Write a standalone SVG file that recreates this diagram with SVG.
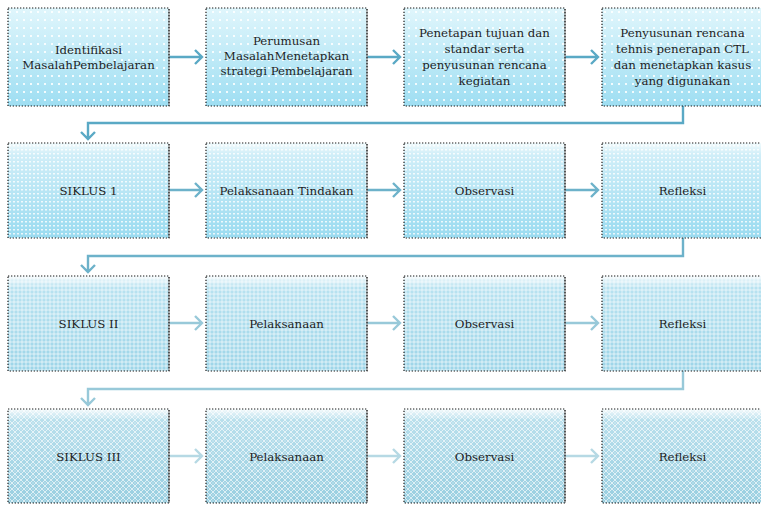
<svg xmlns="http://www.w3.org/2000/svg" width="761" height="505" viewBox="0 0 761 505">
  <defs>
    <style>
      .lbl { font-family: 'DejaVu Serif', 'Liberation Serif', serif; font-size: 11.8px; fill: #1e1e1e; text-anchor: middle; }
      .frame { fill: none; stroke: #1a1a1a; stroke-width: 1.2; stroke-dasharray: 1.3 1.7; }
      .shade { fill: none; stroke: #8a8a8a; stroke-width: 1.2; }
      .c1 { fill: none; stroke: #5aa9c5; stroke-width: 2.4; }
      .c2 { fill: none; stroke: #6db2ca; stroke-width: 2.4; }
      .c3 { fill: none; stroke: #98c9d9; stroke-width: 2.4; }
      .c4 { fill: none; stroke: #b6d9e4; stroke-width: 2.4; }
    </style>
    <linearGradient id="g1" x1="0" y1="0" x2="0" y2="1">
      <stop offset="0" stop-color="#e0f6fc"/>
      <stop offset="1" stop-color="#9edef2"/>
    </linearGradient>
    <linearGradient id="g2" x1="0" y1="0" x2="0" y2="1">
      <stop offset="0" stop-color="#f2fbfd"/>
      <stop offset="0.12" stop-color="#d0eef8"/>
      <stop offset="1" stop-color="#9adbf0"/>
    </linearGradient>
    <linearGradient id="g3" x1="0" y1="0" x2="0" y2="1">
      <stop offset="0" stop-color="#f4fafc"/>
      <stop offset="0.12" stop-color="#b8e2f0"/>
      <stop offset="1" stop-color="#9dd5e8"/>
    </linearGradient>
    <linearGradient id="g4" x1="0" y1="0" x2="0" y2="1">
      <stop offset="0" stop-color="#f4fafc"/>
      <stop offset="0.12" stop-color="#b8dfec"/>
      <stop offset="1" stop-color="#98cee0"/>
    </linearGradient>
    <!-- white dot textures layered over the gradients -->
    <pattern id="p1" width="7" height="8" patternUnits="userSpaceOnUse">
      <rect x="2" y="3" width="2" height="2" fill="#ffffff" opacity="0.85"/>
    </pattern>
    <pattern id="p2" width="4" height="4" patternUnits="userSpaceOnUse">
      <rect x="1" y="1" width="2" height="1.5" fill="#ffffff" opacity="0.8"/>
    </pattern>
    <pattern id="p3" width="4" height="4" patternUnits="userSpaceOnUse">
      <rect x="0" y="1.5" width="4" height="1" fill="#ffffff" opacity="0.6"/>
      <rect x="1.5" y="0" width="1" height="4" fill="#ffffff" opacity="0.6"/>
    </pattern>
    <pattern id="p4" width="6" height="6" patternUnits="userSpaceOnUse">
      <path d="M3 0 L6 3 L3 6 L0 3 Z" fill="none" stroke="#ffffff" stroke-width="1" opacity="0.65"/>
      <rect x="2.5" y="2.5" width="1" height="1" fill="#ffffff" opacity="0.7"/>
    </pattern>
  </defs>

  <!-- connectors -->
  <g id="connectors">
    <path class="c1" d="M169 57 H202 M195 50 L202 57 L195 64"/>
    <path class="c1" d="M367 57 H400 M393 50 L400 57 L393 64"/>
    <path class="c1" d="M565 57 H598 M591 50 L598 57 L591 64"/>
    <path class="c1" d="M683 106 V123 H88 V139 M81 132 L88 139 L95 132"/>

    <path class="c2" d="M169 190 H202 M195 183 L202 190 L195 197"/>
    <path class="c2" d="M367 190 H400 M393 183 L400 190 L393 197"/>
    <path class="c2" d="M565 190 H598 M591 183 L598 190 L591 197"/>
    <path class="c2" d="M683 238 V256 H88 V272 M81 265 L88 272 L95 265"/>

    <path class="c3" d="M169 323 H202 M195 316 L202 323 L195 330"/>
    <path class="c3" d="M367 323 H400 M393 316 L400 323 L393 330"/>
    <path class="c3" d="M565 323 H598 M591 316 L598 323 L591 330"/>
    <path class="c3" d="M683 371 V389 H88 V405 M81 398 L88 405 L95 398"/>

    <path class="c4" d="M169 456 H202 M195 449 L202 456 L195 463"/>
    <path class="c4" d="M367 456 H400 M393 449 L400 456 L393 463"/>
    <path class="c4" d="M565 456 H598 M591 449 L598 456 L591 463"/>
  </g>

  <!-- row 1 -->
  <g id="identifikasi">
    <rect x="8" y="8" width="161" height="98" fill="url(#g1)"/>
    <rect x="8" y="8" width="161" height="98" fill="url(#p1)"/>
    <path class="shade" d="M169 9 V106"/>
    <rect class="frame" x="8" y="8" width="161" height="98"/>
    <text class="lbl" x="88.5" y="54">Identifikasi</text>
    <text class="lbl" x="88.5" y="69">MasalahPembelajaran</text>
  </g>
  <g id="perumusan">
    <rect x="206" y="8" width="161" height="98" fill="url(#g1)"/>
    <rect x="206" y="8" width="161" height="98" fill="url(#p1)"/>
    <path class="shade" d="M367 9 V106"/>
    <rect class="frame" x="206" y="8" width="161" height="98"/>
    <text class="lbl" x="286.5" y="45">Perumusan</text>
    <text class="lbl" x="286.5" y="60">MasalahMenetapkan</text>
    <text class="lbl" x="286.5" y="75">strategi Pembelajaran</text>
  </g>
  <g id="penetapan">
    <rect x="404" y="8" width="161" height="98" fill="url(#g1)"/>
    <rect x="404" y="8" width="161" height="98" fill="url(#p1)"/>
    <path class="shade" d="M565 9 V106"/>
    <rect class="frame" x="404" y="8" width="161" height="98"/>
    <text class="lbl" x="484.5" y="37">Penetapan tujuan dan</text>
    <text class="lbl" x="484.5" y="53">standar serta</text>
    <text class="lbl" x="484.5" y="69">penyusunan rencana</text>
    <text class="lbl" x="484.5" y="85">kegiatan</text>
  </g>
  <g id="penyusunan">
    <rect x="602" y="8" width="161" height="98" fill="url(#g1)"/>
    <rect x="602" y="8" width="161" height="98" fill="url(#p1)"/>
    <rect class="frame" x="602" y="8" width="161" height="98"/>
    <text class="lbl" x="682.5" y="37">Penyusunan rencana</text>
    <text class="lbl" x="682.5" y="53">tehnis penerapan CTL</text>
    <text class="lbl" x="682.5" y="69">dan menetapkan kasus</text>
    <text class="lbl" x="682.5" y="85">yang digunakan</text>
  </g>

  <!-- row 2 -->
  <g id="siklus1">
    <rect x="8" y="143" width="161" height="95" fill="url(#g2)"/>
    <rect x="8" y="143" width="161" height="95" fill="url(#p2)"/>
    <path class="shade" d="M169 144 V238"/>
    <rect class="frame" x="8" y="143" width="161" height="95"/>
    <text class="lbl" x="88.5" y="195">SIKLUS 1</text>
  </g>
  <g id="pelaksanaan-tindakan">
    <rect x="206" y="143" width="161" height="95" fill="url(#g2)"/>
    <rect x="206" y="143" width="161" height="95" fill="url(#p2)"/>
    <path class="shade" d="M367 144 V238"/>
    <rect class="frame" x="206" y="143" width="161" height="95"/>
    <text class="lbl" x="286.5" y="195">Pelaksanaan Tindakan</text>
  </g>
  <g id="observasi1">
    <rect x="404" y="143" width="161" height="95" fill="url(#g2)"/>
    <rect x="404" y="143" width="161" height="95" fill="url(#p2)"/>
    <path class="shade" d="M565 144 V238"/>
    <rect class="frame" x="404" y="143" width="161" height="95"/>
    <text class="lbl" x="484.5" y="195">Observasi</text>
  </g>
  <g id="refleksi1">
    <rect x="602" y="143" width="161" height="95" fill="url(#g2)"/>
    <rect x="602" y="143" width="161" height="95" fill="url(#p2)"/>
    <rect class="frame" x="602" y="143" width="161" height="95"/>
    <text class="lbl" x="682.5" y="195">Refleksi</text>
  </g>

  <!-- row 3 -->
  <g id="siklus2">
    <rect x="8" y="276" width="161" height="95" fill="url(#g3)"/>
    <rect x="8" y="276" width="161" height="95" fill="url(#p3)"/>
    <path class="shade" d="M169 277 V371"/>
    <rect class="frame" x="8" y="276" width="161" height="95"/>
    <text class="lbl" x="88.5" y="328">SIKLUS II</text>
  </g>
  <g id="pelaksanaan2">
    <rect x="206" y="276" width="161" height="95" fill="url(#g3)"/>
    <rect x="206" y="276" width="161" height="95" fill="url(#p3)"/>
    <path class="shade" d="M367 277 V371"/>
    <rect class="frame" x="206" y="276" width="161" height="95"/>
    <text class="lbl" x="286.5" y="328">Pelaksanaan</text>
  </g>
  <g id="observasi2">
    <rect x="404" y="276" width="161" height="95" fill="url(#g3)"/>
    <rect x="404" y="276" width="161" height="95" fill="url(#p3)"/>
    <path class="shade" d="M565 277 V371"/>
    <rect class="frame" x="404" y="276" width="161" height="95"/>
    <text class="lbl" x="484.5" y="328">Observasi</text>
  </g>
  <g id="refleksi2">
    <rect x="602" y="276" width="161" height="95" fill="url(#g3)"/>
    <rect x="602" y="276" width="161" height="95" fill="url(#p3)"/>
    <rect class="frame" x="602" y="276" width="161" height="95"/>
    <text class="lbl" x="682.5" y="328">Refleksi</text>
  </g>

  <!-- row 4 -->
  <g id="siklus3">
    <rect x="8" y="409" width="161" height="94" fill="url(#g4)"/>
    <rect x="8" y="409" width="161" height="94" fill="url(#p4)"/>
    <path class="shade" d="M169 410 V503"/>
    <rect class="frame" x="8" y="409" width="161" height="94"/>
    <text class="lbl" x="88.5" y="461">SIKLUS III</text>
  </g>
  <g id="pelaksanaan3">
    <rect x="206" y="409" width="161" height="94" fill="url(#g4)"/>
    <rect x="206" y="409" width="161" height="94" fill="url(#p4)"/>
    <path class="shade" d="M367 410 V503"/>
    <rect class="frame" x="206" y="409" width="161" height="94"/>
    <text class="lbl" x="286.5" y="461">Pelaksanaan</text>
  </g>
  <g id="observasi3">
    <rect x="404" y="409" width="161" height="94" fill="url(#g4)"/>
    <rect x="404" y="409" width="161" height="94" fill="url(#p4)"/>
    <path class="shade" d="M565 410 V503"/>
    <rect class="frame" x="404" y="409" width="161" height="94"/>
    <text class="lbl" x="484.5" y="461">Observasi</text>
  </g>
  <g id="refleksi3">
    <rect x="602" y="409" width="161" height="94" fill="url(#g4)"/>
    <rect x="602" y="409" width="161" height="94" fill="url(#p4)"/>
    <rect class="frame" x="602" y="409" width="161" height="94"/>
    <text class="lbl" x="682.5" y="461">Refleksi</text>
  </g>
</svg>
